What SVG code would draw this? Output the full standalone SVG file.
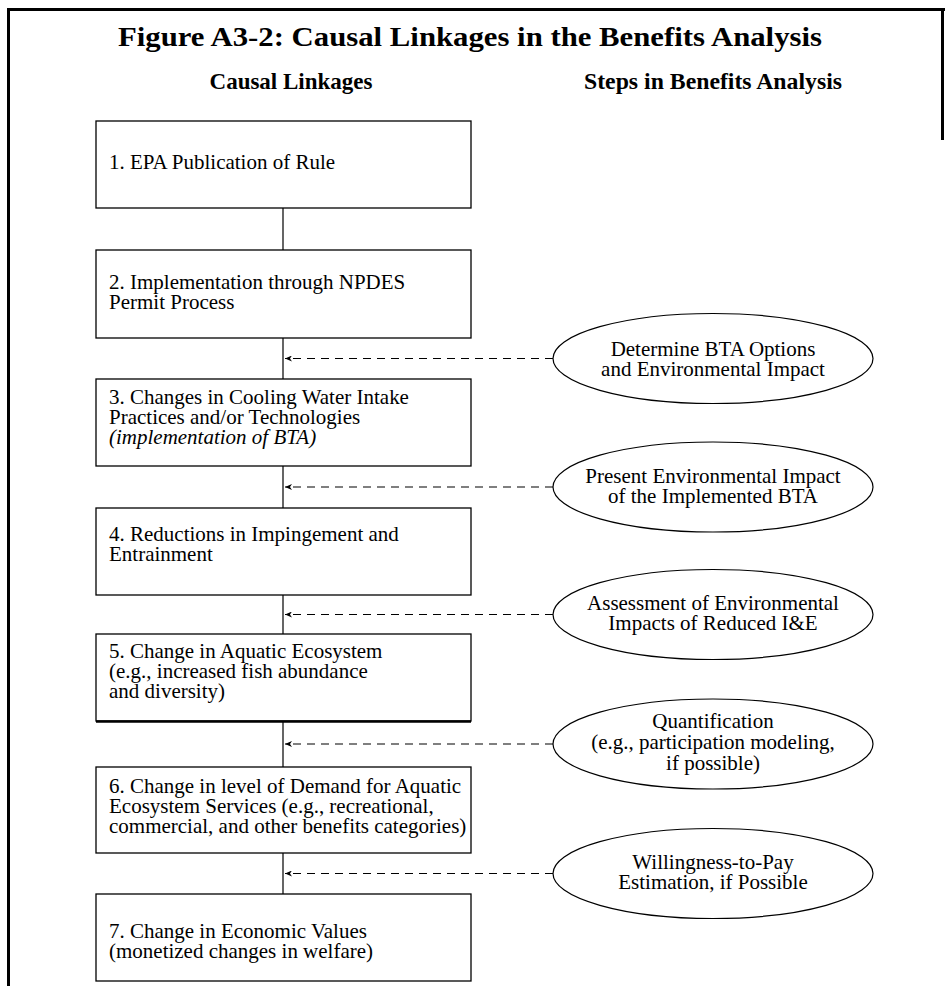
<svg xmlns="http://www.w3.org/2000/svg" width="945" height="986" viewBox="0 0 945 986">
<style>
text{font-family:"Liberation Serif","Times New Roman",serif;fill:#000}
.t{font-size:27px;font-weight:bold}
.h{font-size:23px;font-weight:bold;text-anchor:middle}
.b{font-size:20px}
.e{font-size:20px;text-anchor:middle}
.box{fill:#fff;stroke:#000;stroke-width:1.3}
.ell{fill:#fff;stroke:#000;stroke-width:1.2}
.v{stroke:#000;stroke-width:1.2;fill:none}
.d{stroke:#000;stroke-width:1.2;fill:none;stroke-dasharray:8 6;marker-end:url(#ah)}
</style>
<defs>
<marker id="ah" markerWidth="8" markerHeight="6" refX="7" refY="3" orient="auto" markerUnits="userSpaceOnUse">
<path d="M0,0 L7,3 L0,6 L2,3 Z" fill="#000"/>
</marker>
</defs>
<rect width="945" height="986" fill="#fff"/>
<g id="frame" fill="none" stroke="#000" stroke-width="3">
<path d="M8.5,986 V9.5 H945"/>
<path d="M942.5,9.5 V140"/>
</g>
<text class="t" x="118" y="46" textLength="704" lengthAdjust="spacingAndGlyphs">Figure A3-2: Causal Linkages in the Benefits Analysis</text>
<text class="h" x="291" y="89">Causal Linkages</text>
<text class="h" x="713" y="89" textLength="258" lengthAdjust="spacingAndGlyphs">Steps in Benefits Analysis</text>

<g id="connectors">
<path class="v" d="M283,208 V250 M283,338 V379 M283,466 V508 M283,595 V634 M283,721 V767 M283,853 V894"/>
<path class="d" d="M553,358.5 H285"/>
<path class="d" d="M553,487 H285"/>
<path class="d" d="M553,614.5 H285"/>
<path class="d" d="M553,744 H285"/>
<path class="d" d="M553,873.5 H285"/>
</g>

<g id="n1"><rect class="box" x="96" y="121" width="375" height="87"/>
<g transform="translate(109 0) scale(1.05 1)">
<text class="b" x="0" y="169">1. EPA Publication of Rule</text></g></g>
<g id="n2"><rect class="box" x="96" y="250" width="375" height="88"/>
<g transform="translate(109 0) scale(1.05 1)">
<text class="b" x="0" y="289">2. Implementation through NPDES</text>
<text class="b" x="0" y="309">Permit Process</text></g></g>
<g id="n3"><rect class="box" x="96" y="379" width="375" height="87"/>
<g transform="translate(109 0) scale(1.05 1)">
<text class="b" x="0" y="404">3. Changes in Cooling Water Intake</text>
<text class="b" x="0" y="424">Practices and/or Technologies</text>
<text class="b" x="0" y="444" font-style="italic">(implementation of BTA)</text></g></g>
<g id="n4"><rect class="box" x="96" y="508" width="375" height="87"/>
<g transform="translate(109 0) scale(1.05 1)">
<text class="b" x="0" y="541">4. Reductions in Impingement and</text>
<text class="b" x="0" y="561">Entrainment</text></g></g>
<g id="n5"><rect class="box" x="96" y="634" width="375" height="87"/>
<line x1="96" y1="721.5" x2="471" y2="721.5" stroke="#000" stroke-width="2.5"/>
<g transform="translate(109 0) scale(1.05 1)">
<text class="b" x="0" y="658">5. Change in Aquatic Ecosystem</text>
<text class="b" x="0" y="678">(e.g., increased fish abundance</text>
<text class="b" x="0" y="698">and diversity)</text></g></g>
<g id="n6"><rect class="box" x="96" y="767" width="375" height="86"/>
<g transform="translate(109 0) scale(1.05 1)">
<text class="b" x="0" y="793">6. Change in level of Demand for Aquatic</text>
<text class="b" x="0" y="813">Ecosystem Services (e.g., recreational,</text>
<text class="b" x="0" y="833">commercial, and other benefits categories)</text></g></g>
<g id="n7"><rect class="box" x="96" y="894" width="375" height="87"/>
<g transform="translate(109 0) scale(1.05 1)">
<text class="b" x="0" y="938">7. Change in Economic Values</text>
<text class="b" x="0" y="958">(monetized changes in welfare)</text></g></g>

<g id="s1"><ellipse class="ell" cx="713" cy="358.5" rx="160" ry="45"/>
<g transform="translate(713 0) scale(1.05 1)">
<text class="e" x="0" y="356">Determine BTA Options</text>
<text class="e" x="0" y="376">and Environmental Impact</text></g></g>
<g id="s2"><ellipse class="ell" cx="713" cy="487" rx="160" ry="45"/>
<g transform="translate(713 0) scale(1.05 1)">
<text class="e" x="0" y="483">Present Environmental Impact</text>
<text class="e" x="0" y="503">of the Implemented BTA</text></g></g>
<g id="s3"><ellipse class="ell" cx="713" cy="614.5" rx="160" ry="45"/>
<g transform="translate(713 0) scale(1.05 1)">
<text class="e" x="0" y="610">Assessment of Environmental</text>
<text class="e" x="0" y="630">Impacts of Reduced I&amp;E</text></g></g>
<g id="s4"><ellipse class="ell" cx="713" cy="744" rx="160" ry="45"/>
<g transform="translate(713 0) scale(1.05 1)">
<text class="e" x="0" y="728">Quantification</text>
<text class="e" x="0" y="749">(e.g., participation modeling,</text>
<text class="e" x="0" y="770">if possible)</text></g></g>
<g id="s5"><ellipse class="ell" cx="713" cy="873.5" rx="160" ry="45"/>
<g transform="translate(713 0) scale(1.05 1)">
<text class="e" x="0" y="869">Willingness-to-Pay</text>
<text class="e" x="0" y="889">Estimation, if Possible</text></g></g>
</svg>
